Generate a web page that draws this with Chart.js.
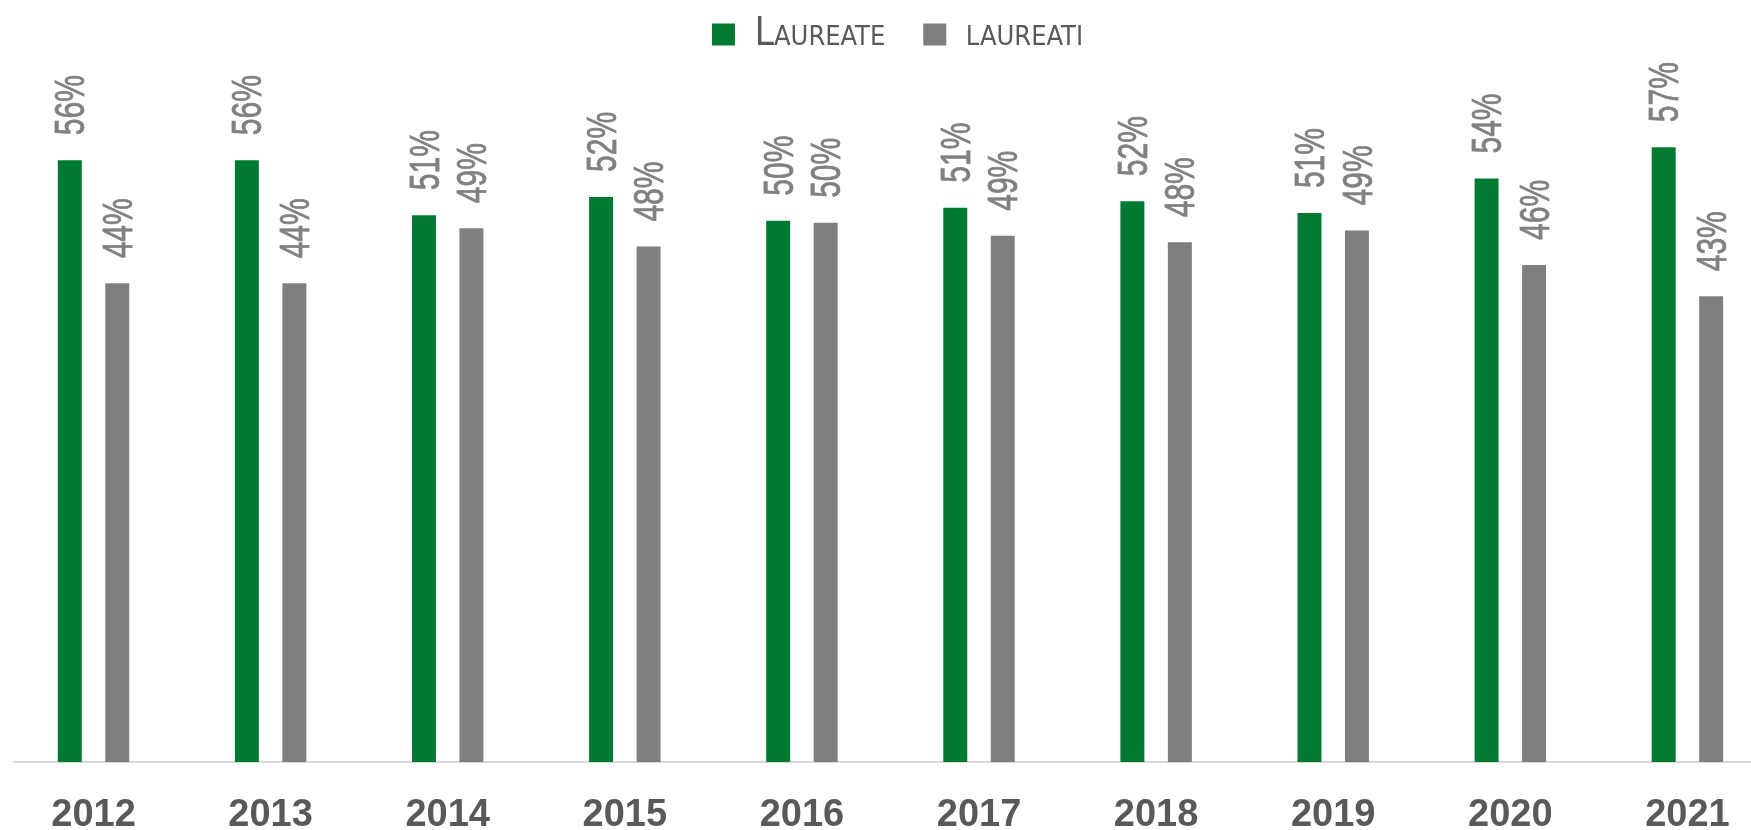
<!DOCTYPE html>
<html lang="it">
<head>
<meta charset="UTF-8" />
<title>Laureate / Laureati</title>
<script src="https://cdn.jsdelivr.net/npm/chart.js"></script>
<style>
  body { margin: 0; background: #ffffff; overflow: hidden; }
  #wrap { width: 1751px; height: 830px; }
</style>
</head>
<body>
<div id="wrap">
  <canvas id="chart" width="1751" height="830"></canvas>
</div>
<script>
  // values (share of graduates, %)
  const years = ['2012', '2013', '2014', '2015', '2016', '2017', '2018', '2019', '2020', '2021'];
  const laureate = [55.7, 55.7, 50.6, 52.3, 50.1, 51.3, 51.9, 50.8, 54.0, 56.9];
  const laureati = [44.3, 44.3, 49.4, 47.7, 49.9, 48.7, 48.1, 49.2, 46.0, 43.1];
  const seriesNames = ['Laureate', 'laureati'];

  const GREEN = '#007a33';
  const GREY = '#7f7f7f';
  const COND = "'DejaVu Sans Condensed', sans-serif";

  // rotated percentage labels over the bars (narrowed, like the original font)
  const barLabels = {
    id: 'barLabels',
    afterDatasetsDraw(chart) {
      const ctx = chart.ctx;
      ctx.save();
      ctx.font = "42px 'Liberation Sans', sans-serif";
      ctx.fillStyle = '#808080';
      ctx.strokeStyle = '#808080';
      ctx.lineWidth = 0.8;
      ctx.textAlign = 'left';
      ctx.textBaseline = 'middle';
      chart.data.datasets.forEach((ds, i) => {
        chart.getDatasetMeta(i).data.forEach((bar, j) => {
          const txt = Math.round(ds.data[j].y) + '%';
          ctx.save();
          ctx.translate(bar.x + 3, bar.y - 25);
          ctx.rotate(-Math.PI / 2);
          ctx.scale(0.715, 1);
          ctx.fillText(txt, 0, 0);
          ctx.strokeText(txt, 0, 0);
          ctx.restore();
        });
      });
      ctx.restore();
    }
  };

  const ctx = document.getElementById('chart').getContext('2d');
  new Chart(ctx, {
    type: 'bar',
    data: {
      datasets: [
        {
          label: seriesNames[0],
          data: laureate.map((v, i) => ({ x: i, y: v })),
          backgroundColor: GREEN,
          categoryPercentage: 0.536,
          barPercentage: 0.505
        },
        {
          label: seriesNames[1],
          data: laureati.map((v, i) => ({ x: i, y: v })),
          backgroundColor: GREY,
          categoryPercentage: 0.536,
          barPercentage: 0.505
        }
      ]
    },
    options: {
      responsive: false,
      animation: false,
      layout: { padding: { left: 14, right: -30, top: -23, bottom: 0 } },
      plugins: {
        tooltip: { enabled: false },
        legend: {
          position: 'top',
          labels: {
            boxWidth: 23,
            boxHeight: 22,
            padding: 38,
            color: '#595959',
            font: { family: COND, size: 39, weight: 'small-caps', lineHeight: 1 }
          }
        }
      },
      scales: {
        x: {
          type: 'linear',
          offset: false,
          min: -0.449,
          max: 9.359,
          afterBuildTicks(scale) {
            scale.ticks = years.map((_, i) => ({ value: i }));
          },
          afterFit(scale) {
            scale.height = 68;
            scale.paddingLeft = 0;
            scale.paddingRight = 0;
          },
          grid: { display: false, drawTicks: false },
          border: { display: true, color: '#d9d9d9', width: 2 },
          ticks: {
            padding: 35,
            color: '#595959',
            autoSkip: false,
            maxRotation: 0,
            font: { family: "'Liberation Sans', sans-serif", size: 38, weight: 'bold', lineHeight: 1 },
            callback: (v) => years[v]
          }
        },
        y: {
          display: false,
          min: 0,
          max: 64.6
        }
      }
    },
    plugins: [barLabels]
  });
</script>
</body>
</html>
